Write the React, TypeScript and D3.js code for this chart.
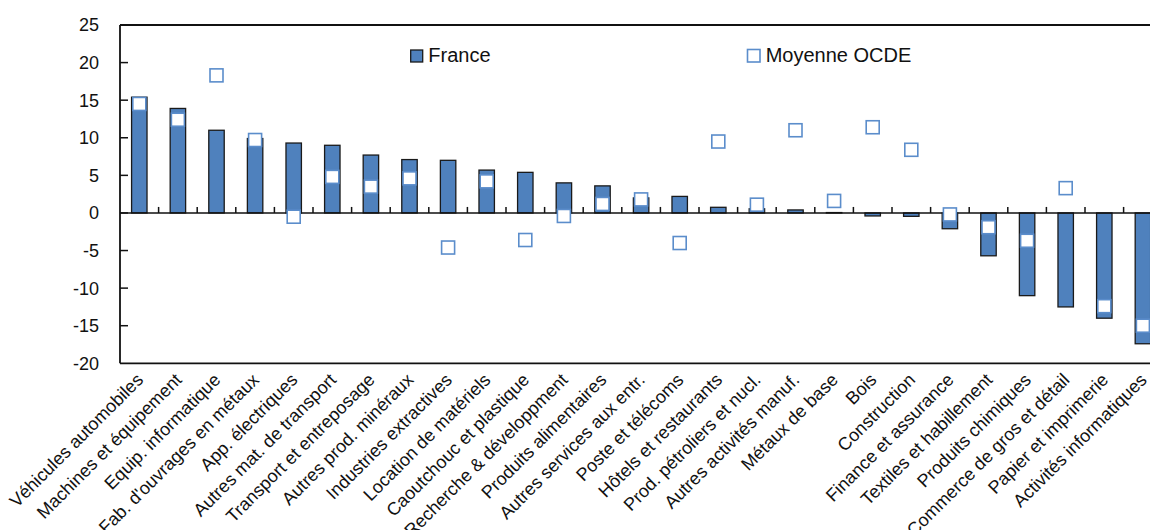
import React from "react";
import * as d3 from "d3";

const categories: string[] = [
  "Véhicules automobiles",
  "Machines et équipement",
  "Equip. informatique",
  "Fab. d'ouvrages en métaux",
  "App. électriques",
  "Autres mat. de transport",
  "Transport et entreposage",
  "Autres prod. minéraux",
  "Industries extractives",
  "Location de matériels",
  "Caoutchouc et plastique",
  "Recherche & développment",
  "Produits alimentaires",
  "Autres services aux entr.",
  "Poste et télécoms",
  "Hôtels et restaurants",
  "Prod. pétroliers et nucl.",
  "Autres activités manuf.",
  "Métaux de base",
  "Bois",
  "Construction",
  "Finance et assurance",
  "Textiles et habillement",
  "Produits chimiques",
  "Commerce de gros et détail",
  "Papier et imprimerie",
  "Activités informatiques",
];

const france: number[] = [
  15.4, 13.9, 11.0, 9.9, 9.3, 9.0, 7.7, 7.1, 7.0, 5.7, 5.4, 4.0, 3.6, 2.0,
  2.2, 0.75, 0.55, 0.4, 0.05, -0.4, -0.45, -2.1, -5.7, -11.0, -12.5, -14.0,
  -17.4,
];

const oecd: number[] = [
  14.5, 12.4, 18.3, 9.7, -0.5, 4.8, 3.5, 4.6, -4.6, 4.2, -3.6, -0.4, 1.2, 1.8,
  -4.0, 9.5, 1.1, 11.0, 1.6, 11.4, 8.4, -0.2, -1.9, -3.7, 3.3, -12.4, -15.0,
];

const yTicks: number[] = [-20, -15, -10, -5, 0, 5, 10, 15, 20, 25];

const legendLabels = { france: "France", oecd: "Moyenne OCDE" };

export default function App() {
  const W = 1150;
  const H = 530;
  const left = 120;
  const top = 25;
  const bottom = 363.3;
  const step = 38.6;
  const right = left + categories.length * step;

  const x = d3
    .scaleBand<string>()
    .domain(categories)
    .range([left, right])
    .paddingInner(0.6)
    .paddingOuter(0.3);
  const y = d3.scaleLinear().domain([-20, 25]).range([bottom, top]);

  const barFill = "#4F81BD";
  const markerStroke = "#5B8DCB";
  const font = "'Liberation Sans', Arial, sans-serif";
  const y0 = y(0);
  const bw = x.bandwidth();
  const ms = 13;

  return (
    <svg
      width={W}
      height={H}
      style={{ position: "absolute", left: 0, top: 0, background: "#fff" }}
      fontFamily={font}
    >
      {/* frame */}
      <line x1={left} x2={right} y1={top} y2={top} stroke="#111" strokeWidth={1.8} />
      <line x1={left} x2={right} y1={bottom} y2={bottom} stroke="#111" strokeWidth={1.8} />
      <line x1={left} x2={left} y1={top} y2={bottom} stroke="#111" strokeWidth={1.8} />

      {/* y ticks */}
      {yTicks.map((t) => (
        <g key={t}>
          {t !== 25 && t !== -20 && (
            <line x1={left} x2={left + 8} y1={y(t)} y2={y(t)} stroke="#111" strokeWidth={1.5} />
          )}
          <text
            x={99}
            y={y(t)}
            dy="0.36em"
            textAnchor="end"
            fontSize={18}
            fill="#111"
          >
            {t}
          </text>
        </g>
      ))}

      {/* bars */}
      {categories.map((c, i) => {
        const v = france[i];
        const yt = Math.min(y(v), y0);
        const h = Math.abs(y(v) - y0);
        return (
          <rect
            key={c}
            x={x(c)}
            y={yt}
            width={bw}
            height={h}
            fill={barFill}
            stroke="#1a1a1a"
            strokeWidth={1.3}
          />
        );
      })}

      {/* zero line */}
      <line x1={left} x2={right} y1={y0} y2={y0} stroke="#111" strokeWidth={1.6} />
      {d3.range(1, categories.length).map((k) => (
        <line
          key={k}
          x1={left + k * x.step()}
          x2={left + k * x.step()}
          y1={y0}
          y2={y0 - 6}
          stroke="#111"
          strokeWidth={1.5}
        />
      ))}

      {/* OECD markers */}
      {categories.map((c, i) => {
        const cx = (x(c) as number) + bw / 2;
        const cy = y(oecd[i]);
        return (
          <rect
            key={c}
            x={cx - ms / 2}
            y={cy - ms / 2}
            width={ms}
            height={ms}
            fill="#fff"
            stroke={markerStroke}
            strokeWidth={1.6}
          />
        );
      })}

      {/* category labels */}
      {categories.map((c) => {
        const cx = (x(c) as number) + bw / 2;
        const tx = cx + 5;
        const ty = 381;
        return (
          <text
            key={c}
            x={tx}
            y={ty}
            transform={`rotate(-45 ${tx} ${ty})`}
            textAnchor="end"
            fontSize={18}
            fill="#111"
          >
            {c}
          </text>
        );
      })}

      {/* legend */}
      <rect x={410.7} y={50} width={12} height={12} fill={barFill} stroke="#1a1a1a" strokeWidth={1.3} />
      <text x={428.3} y={62.3} fontSize={20} fill="#111">
        {legendLabels.france}
      </text>
      <rect x={747.5} y={49.5} width={12.5} height={12.5} fill="#fff" stroke={markerStroke} strokeWidth={1.6} />
      <text x={765.7} y={62.3} fontSize={20} fill="#111">
        {legendLabels.oecd}
      </text>
    </svg>
  );
}
